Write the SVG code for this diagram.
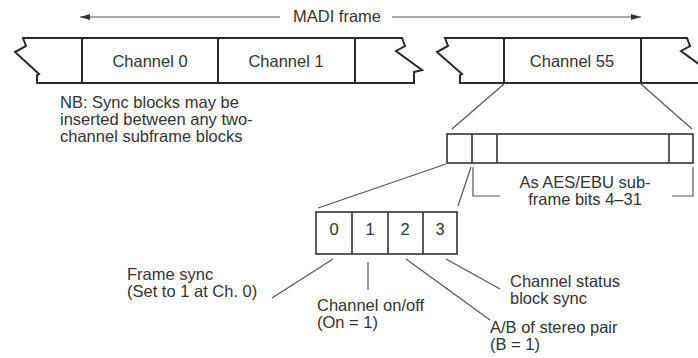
<svg xmlns="http://www.w3.org/2000/svg" width="698" height="358" viewBox="0 0 698 358">
<style>
text{font-family:"Liberation Sans",Arial,sans-serif;font-size:16.5px;fill:#333}
.bar{fill:none;stroke:#2a2a2a;stroke-width:2;stroke-linejoin:miter}
.box{fill:#fff;stroke:#333;stroke-width:1.6}
.lead{fill:none;stroke:#555;stroke-width:1.2}
.mid{text-anchor:middle}
</style>
<defs>
<marker id="ah" viewBox="0 0 10 6" refX="10" refY="3" markerWidth="10" markerHeight="6" orient="auto-start-reverse" markerUnits="userSpaceOnUse">
<path d="M0,0 L10,3 L0,6 z" fill="#333"/>
</marker>
</defs>
<rect width="698" height="358" fill="#fff"/>
<g id="madi-frame-arrow">
<line x1="280" y1="17" x2="80" y2="17" class="lead" marker-end="url(#ah)"/>
<line x1="392" y1="17" x2="641" y2="17" class="lead" marker-end="url(#ah)"/>
<text x="337" y="22" class="mid">MADI frame</text>
</g>
<g id="frame-part-1">
<path class="bar" d="M23,38 H402 L405,46 L396,51 L422,70 L414,72 V83 H37 L37,75 L39,74 L15,52 L26,46 Z"/>
<line class="bar" x1="82" y1="38" x2="82" y2="83"/>
<line class="bar" x1="218" y1="38" x2="218" y2="83"/>
<line class="bar" x1="355" y1="38" x2="355" y2="83"/>
<text x="150" y="67" class="mid">Channel 0</text>
<text x="286" y="67" class="mid">Channel 1</text>
</g>
<g id="frame-part-2">
<path class="bar" d="M445,38 H687 L690,46 L681,51 L707,70 L699,72 V83 H460 L460,75 L462,74 L437,52 L448,46 Z"/>
<line class="bar" x1="504" y1="38" x2="504" y2="83"/>
<line class="bar" x1="641" y1="38" x2="641" y2="83"/>
<text x="572" y="67" class="mid">Channel 55</text>
</g>
<g id="note">
<text x="60" y="108">NB: Sync blocks may be</text>
<text x="60" y="125">inserted between any two-</text>
<text x="60" y="142">channel subframe blocks</text>
</g>
<g id="subframe">
<rect class="box" x="447" y="134" width="246" height="29"/>
<line class="box" x1="472" y1="134" x2="472" y2="163"/>
<line class="box" x1="497" y1="134" x2="497" y2="163"/>
<line class="box" x1="669" y1="134" x2="669" y2="163"/>
</g>
<g id="aes-bracket">
<path class="lead" d="M473,167 V196 H500 M672,196 H693 V167"/>
<text x="585" y="188" class="mid">As AES/EBU sub-</text>
<text x="585" y="205" class="mid">frame bits 4–31</text>
</g>
<g id="bits">
<rect class="box" x="316" y="212" width="141" height="42"/>
<line class="box" x1="352" y1="212" x2="352" y2="254"/>
<line class="box" x1="388" y1="212" x2="388" y2="254"/>
<line class="box" x1="423" y1="212" x2="423" y2="254"/>
<text x="334" y="235" class="mid">0</text>
<text x="370" y="235" class="mid">1</text>
<text x="405" y="235" class="mid">2</text>
<text x="440" y="235" class="mid">3</text>
</g>
<g id="labels">
<text x="127" y="280">Frame sync</text>
<text x="127" y="297">(Set to 1 at Ch. 0)</text>
<text x="317" y="311">Channel on/off</text>
<text x="317" y="328">(On = 1)</text>
<text x="490" y="333">A/B of stereo pair</text>
<text x="490" y="350">(B = 1)</text>
<text x="510" y="287">Channel status</text>
<text x="510" y="304">block sync</text>
</g>
<g id="connectors">
<line class="lead" x1="504" y1="84" x2="452" y2="129"/>
<line class="lead" x1="641" y1="84" x2="692" y2="129"/>
<line class="lead" x1="446" y1="164" x2="318" y2="208"/>
<line class="lead" x1="471" y1="167" x2="458" y2="206"/>
<line class="lead" x1="333" y1="259" x2="272" y2="298"/>
<line class="lead" x1="368" y1="262" x2="368" y2="290"/>
<line class="lead" x1="406" y1="259" x2="490" y2="320"/>
<line class="lead" x1="446" y1="259" x2="500" y2="289"/>
</g>
</svg>
